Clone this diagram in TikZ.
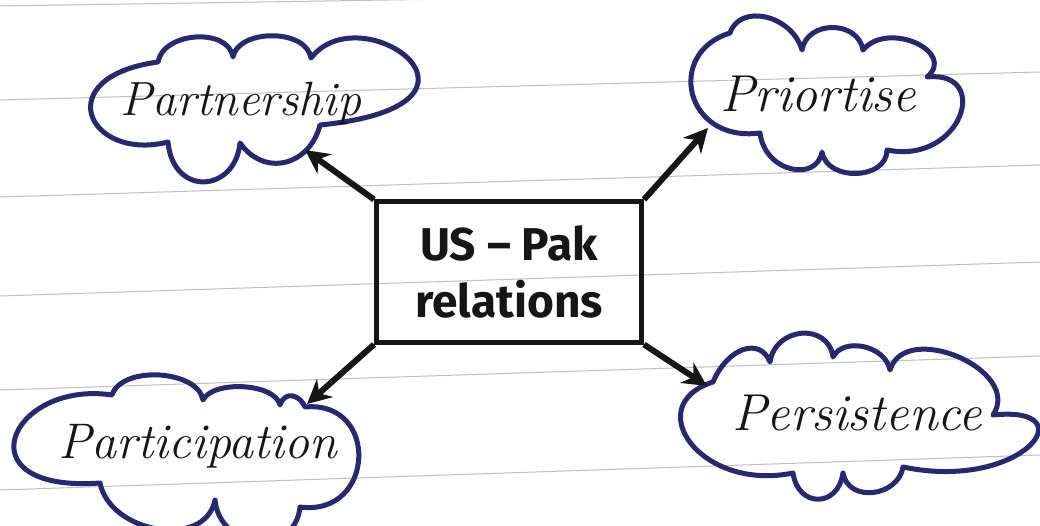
\documentclass[tikz,border=0pt]{standalone}
\usepackage{fontspec}
\newfontfamily\boxfont{Fira Sans}
\usetikzlibrary{arrows.meta}
\definecolor{ink}{HTML}{161616}
\definecolor{navy}{HTML}{262970}
\definecolor{rulecol}{HTML}{BDBDC4}
\begin{document}
\begin{tikzpicture}[x=1pt,y=-1pt,
  cloudline/.style={draw=navy, line width=5pt, line join=round, line cap=round},
  ideatext/.style={font=\itshape\fontsize{#1}{#1}\selectfont, text=ink, inner sep=0pt},
  hub/.style={draw=ink, line width=5pt, minimum width=265pt, minimum height=140pt, align=center,
    font=\boxfont\bfseries\fontsize{46}{57}\selectfont, text=ink},
  link/.style={draw=ink, line width=6pt, -{Stealth[length=24pt,width=24pt]}},
  paperline/.style={draw=rulecol, line width=1pt}]
\useasboundingbox (0,0) rectangle (1040,526);
\clip (0,0) rectangle (1040,526);
\fill[white] (0,0) rectangle (1040,526);
% ruled paper
\draw[paperline] (0,6) -- (1040,-10);
\draw[paperline] (0,100) -- (1040,72);
\draw[paperline] (0,197) -- (1040,165);
\draw[paperline] (0,296) -- (1040,262);
\draw[paperline] (0,390) -- (1040,356);
\draw[paperline] (0,490) -- (1040,455);
% central box
\node[hub] (hub) at (509,272) {US \textendash{} Pak\\relations};
% cloud: Partnership
\draw[cloudline] (158,62) .. controls +(5,-30) and +(-5,-30) .. (233,57)
  .. controls +(5,-28) and +(-5,-30) .. (311,58)
  .. controls +(50,-65) and +(200,-20) .. (320,125)
  .. controls +(-10,40) and +(25,35) .. (240,143)
  .. controls +(-5,50) and +(5,55) .. (168,142)
  .. controls +(-80,20) and +(-110,15) .. (158,62) -- cycle;
% cloud: Priortise
\draw[cloudline] (730,33) .. controls +(10,-30) and +(-10,-35) .. (802,50)
  .. controls +(5,-30) and +(-5,-30) .. (863,50)
  .. controls +(25,-30) and +(30,-25) .. (927,77)
  .. controls +(65,-7) and +(75,15) .. (887,150)
  .. controls +(0,30) and +(5,30) .. (822,152)
  .. controls +(-5,30) and +(5,40) .. (760,133)
  .. controls +(-75,10) and +(-65,20) .. (730,33) -- cycle;
% cloud: Participation
\draw[cloudline] (112,395) .. controls +(10,-30) and +(-5,-30) .. (203,400)
  .. controls +(10,-20) and +(-5,-22) .. (280,405)
  .. controls +(5,-15) and +(-5,-12) .. (305,407)
  .. controls +(75,-7) and +(75,10) .. (300,507)
  .. controls +(-5,50) and +(5,50) .. (215,500)
  .. controls +(-10,50) and +(10,50) .. (100,483)
  .. controls +(-140,10) and +(-102,-15) .. (112,395) -- cycle;
% cloud: Persistence
\draw[cloudline] (713,382) .. controls +(15,-35) and +(-10,-25) .. (770,362)
  .. controls +(5,-35) and +(-5,-35) .. (833,357)
  .. controls +(10,-20) and +(-5,-25) .. (890,370)
  .. controls +(15,-50) and +(30,-45) .. (993,415)
  .. controls +(95,-10) and +(120,25) .. (903,467)
  .. controls +(-5,30) and +(5,30) .. (843,473)
  .. controls +(-5,35) and +(5,35) .. (793,473)
  .. controls +(-93,19) and +(-73,23) .. (713,382) -- cycle;
% cloud texts
\node[ideatext=48] (t1) at (241,104) {Partnership};
\node[ideatext=52] (t2) at (818,94) {Priortise};
\node[ideatext=50] (t3) at (198,446) {Participation};
\node[ideatext=52] (t4) at (857,413) {Persistence};
% arrow tips on the cloud outlines
\coordinate (c1tip) at (305,150);
\coordinate (c2tip) at (708,128);
\coordinate (c3tip) at (307,404);
\coordinate (c4tip) at (707,386);
% connectors
\draw[link] (hub.north west) -- (c1tip);
\draw[link] (hub.north east) -- (c2tip);
\draw[link] (hub.south west) -- (c3tip);
\draw[link] (hub.south east) -- (c4tip);
\end{tikzpicture}
\end{document}
